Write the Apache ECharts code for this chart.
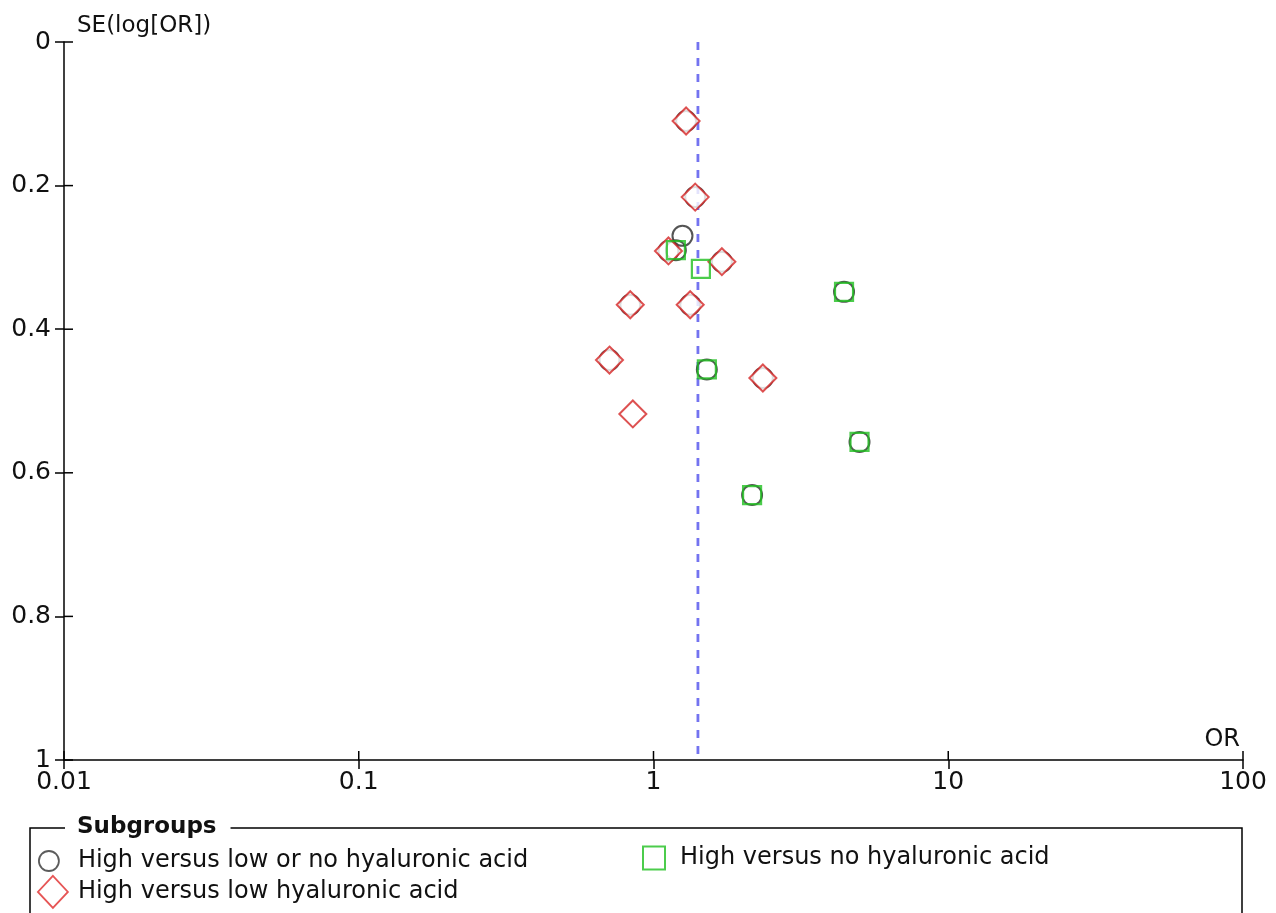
<!DOCTYPE html>
<html>
<head>
<meta charset="utf-8">
<style>
  html, body { margin: 0; padding: 0; background: #ffffff; }
  #chart { width: 1276px; height: 913px; }
</style>
<script src="https://cdn.jsdelivr.net/npm/echarts@6/dist/echarts.min.js"></script>
</head>
<body>
<div id="chart"></div>
<script>
// Subgroup names
const groupLowOrNo = 'High versus low or no hyaluronic acid';
const groupNo = 'High versus no hyaluronic acid';
const groupLow = 'High versus low hyaluronic acid';

// Study odds ratios and standard errors of log(OR), per subgroup
const lowOrNoOR = [1.254, 1.29, 1.385, 1.124, 1.706, 0.834, 1.332, 0.709, 2.35, 1.191, 4.43, 1.517, 5.00, 2.16];
const lowOrNoSE = [0.270, 0.110, 0.216, 0.291, 0.306, 0.366, 0.366, 0.443, 0.468, 0.290, 0.348, 0.456, 0.557, 0.631];

const lowOR = [1.29, 1.385, 1.124, 1.706, 0.834, 1.332, 0.709, 2.35, 0.851];
const lowSE = [0.110, 0.216, 0.291, 0.306, 0.366, 0.366, 0.443, 0.468, 0.518];

const noOR = [1.448, 1.191, 4.43, 1.517, 5.00, 2.16];
const noSE = [0.316, 0.290, 0.348, 0.456, 0.557, 0.631];

// Pooled estimate drawn as the vertical reference line
const pooledOR = 1.415;

// Axis ticks and their labels
const xTickValues = [0.01, 0.1, 1, 10, 100];
const xTickLabels = ['0.01', '0.1', '1', '10', '100'];
const yTickValues = [0, 0.2, 0.4, 0.6, 0.8, 1];
const yTickLabels = ['0', '0.2', '0.4', '0.6', '0.8', '1'];

const FONT = "'DejaVu Sans', sans-serif";
const TICK = 9;
const pair = (xs, ys) => xs.map((v, i) => [v, ys[i]]);

// inner halves of the crossing ticks: [x, y, 0] on the OR axis, [x, y, 1] on the SE axis
const innerTicks = xTickValues.map(v => [v, yTickValues[yTickValues.length - 1], 0])
  .concat(yTickValues.map(v => [xTickValues[0], v, 1]));

const chart = echarts.init(document.getElementById('chart'), null, { renderer: 'canvas' });

chart.setOption({
  animation: false,
  backgroundColor: '#ffffff',
  grid: { left: 64, right: 33, top: 42, bottom: 153, containLabel: false },
  xAxis: {
    type: 'log', logBase: 10, min: 0.01, max: 100,
    splitLine: { show: false }, minorTick: { show: false },
    position: 'bottom',
    name: 'OR', nameLocation: 'end', nameGap: 0,
    nameTextStyle: { fontFamily: FONT, fontSize: 24, color: '#111', align: 'right', verticalAlign: 'bottom', padding: [0, 3, 8, 0] },
    axisLine: { show: true, onZero: false, lineStyle: { color: '#000', width: 1.5 } },
    axisTick: { show: true, inside: false, length: TICK, lineStyle: { color: '#000', width: 1.5 } },
    axisLabel: {
      show: true, margin: 10, fontFamily: FONT, fontSize: 25, color: '#111',
      formatter: v => xTickLabels[xTickValues.findIndex(t => Math.abs(Math.log10(t) - Math.log10(v)) < 1e-6)]
    }
  },
  yAxis: {
    type: 'value', min: 0, max: 1, interval: 0.2, inverse: true,
    splitLine: { show: false },
    position: 'left',
    name: 'SE(log[OR])', nameLocation: 'start', nameGap: 4,
    nameTextStyle: { fontFamily: FONT, fontSize: 23, color: '#111', align: 'left', verticalAlign: 'bottom', padding: [0, 0, 0, 13] },
    axisLine: { show: true, onZero: false, lineStyle: { color: '#000', width: 1.5 } },
    axisTick: { show: true, inside: false, length: TICK, lineStyle: { color: '#000', width: 1.5 } },
    axisLabel: {
      show: true, margin: 13, fontFamily: FONT, fontSize: 25, color: '#111',
      formatter: v => yTickLabels[yTickValues.findIndex(t => Math.abs(t - v) < 1e-6)]
    }
  },
  legend: [
    {
      left: 38, top: 849, padding: 0, selectedMode: false,
      itemWidth: 48, itemHeight: 20,
      textStyle: { fontFamily: FONT, fontSize: 24, color: '#111' },
      data: [{ name: groupLowOrNo, icon: 'circle', itemStyle: { color: '#fff', borderColor: '#333', borderWidth: 1.8 } }]
    },
    {
      left: 37, top: 875, padding: 0, selectedMode: false,
      itemWidth: 40, itemHeight: 32,
      textStyle: { fontFamily: FONT, fontSize: 24, color: '#111' },
      data: [{ name: groupLow, icon: 'path://M15,0L30,16L15,32L0,16Z', itemStyle: { color: '#fff', borderColor: '#e02a2a', borderWidth: 1.8 } }]
    },
    {
      left: 642, top: 845.5, padding: 0, selectedMode: false,
      itemWidth: 42, itemHeight: 23,
      textStyle: { fontFamily: FONT, fontSize: 24, color: '#111' },
      data: [{ name: groupNo, icon: 'path://M0,0L22,0L22,23L0,23Z', itemStyle: { color: '#fff', borderColor: '#1fbf1f', borderWidth: 2 } }]
    }
  ],
  graphic: [
    {
      type: 'rect', z: 1, silent: true,
      shape: { x: 30, y: 828, width: 1212, height: 200 },
      style: { fill: 'none', stroke: '#000', lineWidth: 1.5 }
    },
    {
      type: 'text', z: 2, silent: true, x: 65, y: 827,
      style: {
        text: 'Subgroups', fontFamily: FONT, fontWeight: 'bold', fontSize: 23, fill: '#111',
        backgroundColor: '#fff', padding: [0, 14, 0, 12], verticalAlign: 'middle'
      }
    }
  ],
  series: [
    {
      name: 'Axis ticks', type: 'custom', clip: false, silent: true, z: 5,
      data: innerTicks,
      renderItem: (params, api) => {
        const p = api.coord([api.value(0), api.value(1)]);
        const onXAxis = api.value(2) === 0;
        return {
          type: 'line',
          shape: onXAxis
            ? { x1: p[0], y1: p[1], x2: p[0], y2: p[1] - TICK }
            : { x1: p[0], y1: p[1], x2: p[0] + TICK, y2: p[1] },
          style: { stroke: '#000', lineWidth: 1.5 }
        };
      }
    },
    {
      name: 'Pooled OR', type: 'line', z: 1,
      data: [[pooledOR, 0], [pooledOR, 1]],
      symbol: 'none', silent: true,
      lineStyle: { color: '#7373f0', width: 2.8, type: [8, 8] }
    },
    {
      name: groupLowOrNo, type: 'scatter', z: 2,
      data: pair(lowOrNoOR, lowOrNoSE),
      symbol: 'circle', symbolSize: 20,
      itemStyle: { color: 'rgba(0,0,0,0)', borderColor: '#2a2a2a', borderWidth: 2 }
    },
    {
      name: groupLow, type: 'scatter', z: 3,
      data: pair(lowOR, lowSE),
      symbol: 'diamond', symbolSize: 27,
      itemStyle: { color: '#ffffff', borderColor: '#d42626', borderWidth: 2 }
    },
    {
      name: groupNo, type: 'scatter', z: 4,
      data: pair(noOR, noSE),
      symbol: 'rect', symbolSize: 18,
      itemStyle: { color: 'rgba(0,0,0,0)', borderColor: '#1fbf1f', borderWidth: 2.2 }
    }
  ]
});
</script>
</body>
</html>
